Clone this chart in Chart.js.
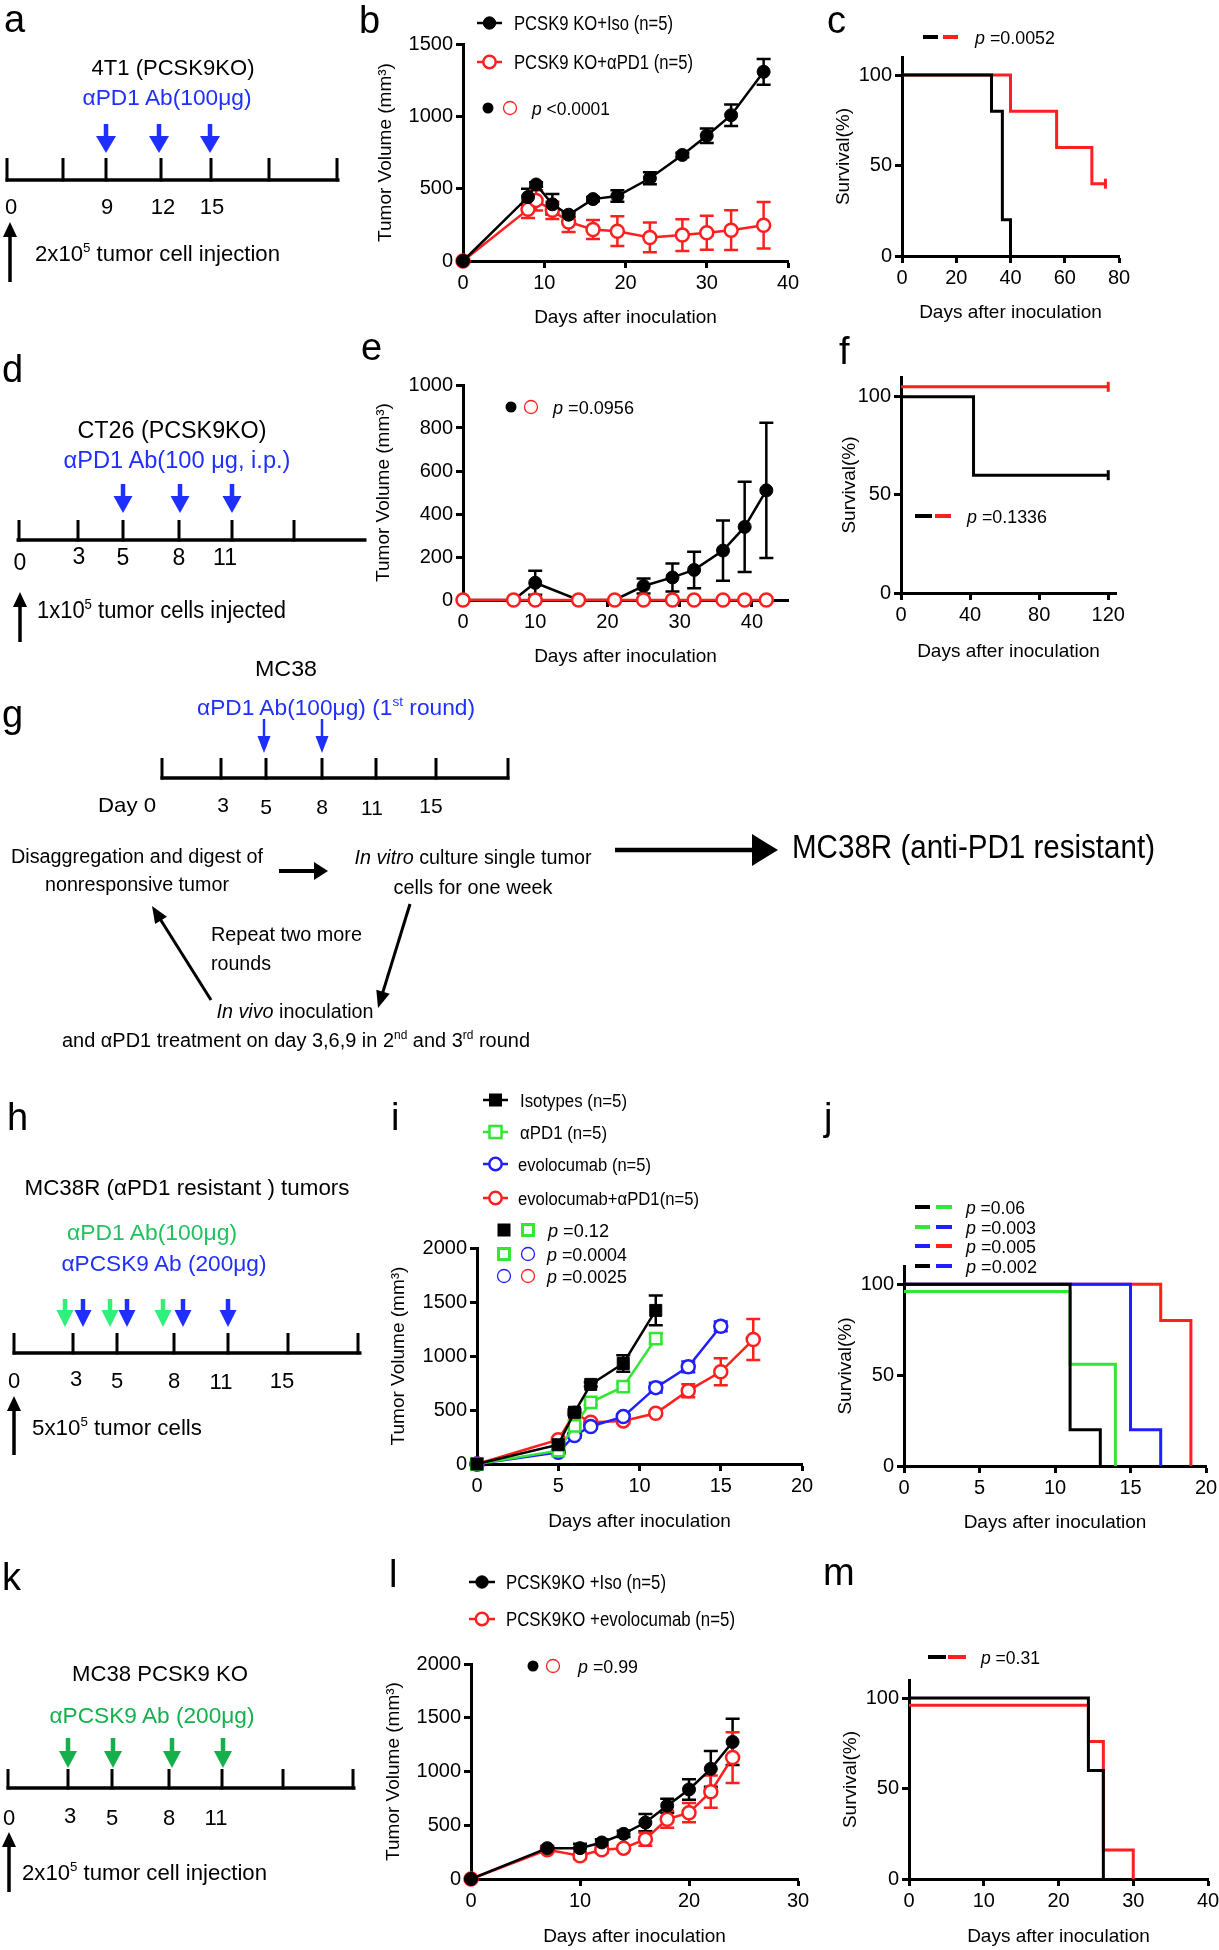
<!DOCTYPE html>
<html>
<head>
<meta charset="utf-8">
<script src="https://cdn.jsdelivr.net/npm/chart.js"></script>
<style>
  html, body { margin: 0; padding: 0; background: #fff; overflow: hidden; }
  #page { position: relative; width: 1219px; height: 1950px; overflow: hidden; }
  #page canvas { position: absolute; }
  #overlay { position: absolute; left: 0; top: 0; }
</style>
</head>
<body>
<div id="page">
  <canvas id="chartB"></canvas>
  <canvas id="chartC"></canvas>
  <canvas id="chartE"></canvas>
  <canvas id="chartF"></canvas>
  <canvas id="chartI"></canvas>
  <canvas id="chartJ"></canvas>
  <canvas id="chartL"></canvas>
  <canvas id="chartM"></canvas>
  <svg id="overlay" width="1219" height="1950" xmlns="http://www.w3.org/2000/svg"></svg>
</div>
<script>
// ===================== DATA =====================
// b - 4T1 PCSK9KO tumour growth
const daysB = [0, 8, 9, 11, 13, 16, 19, 23, 27, 30, 33, 37];
const isoB = [0, 442, 529, 392, 320, 428, 449, 572, 733, 866, 1008, 1308];
const isoErrB = [0, 57, 15, 71, 15, 15, 40, 42, 15, 50, 74, 89];
const pd1B = [0, 357, 419, 350, 270, 218, 206, 163, 179, 195, 213, 247];
const pd1ErrB = [0, 60, 70, 60, 69, 66, 103, 103, 110, 117, 137, 160];
const xTicksB = [0, 10, 20, 30, 40];
const yTicksB = [0, 500, 1000, 1500];

// c - 4T1 survival
const survDaysC_iso = [0, 33, 37, 40];
const survC_iso = [100, 80, 20, 0];
const survDaysC_pd1 = [0, 40, 57, 70, 75];
const survC_pd1 = [100, 80, 60, 40, 40];
const xTicksC = [0, 20, 40, 60, 80];
const yTicksSurv = [0, 50, 100];

// e - CT26 PCSK9KO tumour growth
const daysE = [0, 7, 10, 16, 21, 25, 29, 32, 36, 39, 42];
const isoE = [0, 0, 80, 0, 0, 65, 105, 140, 230, 340, 510];
const isoErrE = [0, 0, 56, 0, 0, 35, 65, 85, 140, 210, 315];
const pd1E = [0, 0, 0, 0, 0, 0, 0, 0, 0, 0, 0];
const xTicksE = [0, 10, 20, 30, 40];
const yTicksE = [0, 200, 400, 600, 800, 1000];

// f - CT26 survival
const survDaysF_iso = [0, 42, 120];
const survF_iso = [100, 60, 60];
const survDaysF_pd1 = [0, 120];
const survF_pd1 = [105, 105];
const xTicksF = [0, 40, 80, 120];

// i - MC38R tumour growth
const daysI_iso = [0, 5, 6, 7, 9, 11];
const isoI = [0, 178, 479, 737, 931, 1422];
const isoErrI = [0, 20, 25, 20, 77, 138];
const pd1I = [0, 123, 353, 571, 716, 1161];
const pd1ErrI = [0, 15, 20, 25, 30, 45];
const daysI_evo = [0, 5, 6, 7, 9, 11, 13, 15];
const evoI = [0, 108, 264, 347, 439, 707, 900, 1275];
const evoErrI = [0, 10, 20, 20, 25, 45, 50, 45];
const daysI_combo = [0, 5, 6, 7, 9, 11, 13, 15, 17];
const comboI = [0, 224, 470, 387, 399, 470, 679, 854, 1152];
const comboErrI = [0, 15, 15, 20, 20, 20, 60, 125, 190];
const xTicksI = [0, 5, 10, 15, 20];
const yTicksI = [0, 500, 1000, 1500, 2000];

// j - MC38R survival
const survDaysJ_iso = [0, 11, 13];
const survJ_iso = [100, 20, 0];
const survDaysJ_pd1 = [0, 11, 14];
const survJ_pd1 = [96, 56, 0];
const survDaysJ_evo = [0, 15, 17];
const survJ_evo = [100, 20, 0];
const survDaysJ_combo = [0, 17, 19];
const survJ_combo = [100, 80, 0];
const xTicksJ = [0, 5, 10, 15, 20];

// l - MC38 PCSK9KO tumour growth
const daysL = [0, 7, 10, 12, 14, 16, 18, 20, 22, 24];
const isoL = [0, 287, 287, 340, 420, 525, 682, 833, 1025, 1275];
const isoErrL = [0, 20, 40, 30, 30, 80, 65, 95, 166, 215];
const evoL = [0, 272, 216, 272, 287, 370, 556, 617, 812, 1130];
const evoErrL = [0, 20, 30, 30, 20, 60, 80, 90, 150, 236];
const xTicksL = [0, 10, 20, 30];
const yTicksL = [0, 500, 1000, 1500, 2000];

// m - MC38 PCSK9KO survival
const survDaysM_iso = [0, 24, 26];
const survM_iso = [100, 60, 0];
const survDaysM_evo = [0, 24, 26, 30];
const survM_evo = [96, 76, 16, 0];
const xTicksM = [0, 10, 20, 30, 40];

// ===================== STYLE / LAYOUT =====================
const FONT = "'Liberation Sans', Arial, Helvetica, sans-serif";
const BLACK = '#000000';
const RED = '#ff1f1f';
const BLUE = '#1f1fff';
const GREEN = '#33e633';
const S_BLUE = '#1f2fff';
const S_GREEN_LIGHT = '#2ef07a';
const S_GREEN_TEXT = '#22c15e';
const S_GREEN = '#14b04c';

const TICK_SIZE = 20, TITLE_SIZE = 19, PAD_TOP = 14, PAD_RIGHT = 22;

// plot frames: pixel of x=0 / x=max, y=max / y=0, centre of the axis titles
const geoB = { x0: 463, x1: 788, yT: 43, yB: 261, ycx: 385, xcy: 318 };
const geoC = { x0: 902, x1: 1119, yT: 56, yB: 256, ycx: 843, xcy: 313 };
const geoE = { x0: 463, x1: 788, yT: 384, yB: 600, ycx: 383, xcy: 657 };
const geoF = { x0: 901, x1: 1116, yT: 376, yB: 593, ycx: 849, xcy: 652 };
const geoI = { x0: 477, x1: 802, yT: 1247, yB: 1464, ycx: 398, xcy: 1522 };
const geoJ = { x0: 904, x1: 1206, yT: 1265, yB: 1466, ycx: 845, xcy: 1523 };
const geoL = { x0: 471, x1: 798, yT: 1663, yB: 1879, ycx: 393, xcy: 1937 };
const geoM = { x0: 909, x1: 1208, yT: 1679, yB: 1879, ycx: 850, xcy: 1937 };

Chart.defaults.font.family = FONT;
Chart.defaults.color = '#000';

// error bars drawn under the lines, through the chart scales
const errorBars = {
  id: 'errorBars',
  beforeDatasetsDraw(chart) {
    const ctx = chart.ctx, xs = chart.scales.x, ys = chart.scales.y;
    chart.data.datasets.forEach((ds) => {
      if (!ds.errors) return;
      ctx.save();
      ctx.strokeStyle = ds.borderColor;
      ctx.lineWidth = 2.5;
      ds.data.forEach((pt, j) => {
        const e = ds.errors[j];
        if (!e) return;
        const px = xs.getPixelForValue(pt.x);
        const top = ys.getPixelForValue(pt.y + e);
        const bot = ys.getPixelForValue(Math.max(pt.y - e, 0));
        ctx.beginPath();
        ctx.moveTo(px, top); ctx.lineTo(px, bot);
        ctx.moveTo(px - 7, top); ctx.lineTo(px + 7, top);
        ctx.moveTo(px - 7, bot); ctx.lineTo(px + 7, bot);
        ctx.stroke();
      });
      ctx.restore();
    });
  },
};

function frameOf(g) {
  const off = TITLE_SIZE * 1.2 / 2 + 4;
  const left = Math.round(g.ycx - off);
  const top = g.yT - PAD_TOP;
  const xH = Math.round(g.xcy - g.yB + off);
  return { left, top, yW: g.x0 - left, xH, width: g.x1 - left + PAD_RIGHT, height: g.yB - top + xH };
}

function axis(max, ticks, fitFn, title) {
  return {
    type: 'linear', min: 0, max,
    afterBuildTicks: (a) => { a.ticks = ticks.map((v) => ({ value: v })); },
    afterFit: fitFn,
    grid: { display: true, drawOnChartArea: false, drawTicks: true, tickLength: 7, tickWidth: 3, tickColor: '#000' },
    border: { display: true, color: '#000', width: 3 },
    ticks: {
      color: '#000', font: { size: TICK_SIZE }, padding: 3, autoSkip: false, maxRotation: 0,
      callback: (v) => String(v),
    },
    title: { display: true, text: title, color: '#000', font: { size: TITLE_SIZE }, padding: { top: 4, bottom: 4 } },
  };
}

function makeChart(id, geo, datasets, xMax, xTicks, yMax, yTicks, yTitle) {
  const f = frameOf(geo);
  const cv = document.getElementById(id);
  cv.width = f.width; cv.height = f.height;
  cv.style.left = f.left + 'px'; cv.style.top = f.top + 'px';
  return new Chart(cv, {
    type: 'line',
    data: { datasets },
    options: {
      responsive: false, animation: false, events: [],
      layout: { padding: { top: PAD_TOP, right: PAD_RIGHT, left: 0, bottom: 0 } },
      plugins: { legend: { display: false }, tooltip: { enabled: false } },
      scales: {
        x: axis(xMax, xTicks, (s) => { s.height = f.xH; }, 'Days after inoculation'),
        y: axis(yMax, yTicks, (s) => { s.width = f.yW; }, yTitle),
      },
    },
    plugins: [errorBars],
  });
}

function growth(days, vals, errs, color, style, filled, radius) {
  return {
    data: days.map((d, i) => ({ x: d, y: vals[i] })),
    errors: errs,
    borderColor: color, backgroundColor: color, borderWidth: 2.5,
    pointStyle: style, pointRadius: radius, pointHoverRadius: radius,
    pointBorderWidth: filled ? 1 : 2.5,
    pointBackgroundColor: filled ? color : '#ffffff', pointBorderColor: color,
    clip: false, tension: 0, fill: false,
  };
}

function km(days, surv, color) {
  const last = days.length - 1;
  return {
    data: days.map((d, i) => ({ x: d, y: surv[i] })),
    stepped: true, borderColor: color, borderWidth: 3, fill: false, clip: false,
    pointStyle: 'line', rotation: 90,
    pointRadius: days.map((d, i) => (i === last && surv[i] > 0 ? 5 : 0)),
    pointHoverRadius: 0, pointBorderColor: color, pointBorderWidth: 3,
  };
}

const VOL = 'Tumor Volume (mm³)';
const SURV = 'Survival(%)';

makeChart('chartB', geoB, [
  growth(daysB, isoB, isoErrB, BLACK, 'circle', true, 6.5),
  growth(daysB, pd1B, pd1ErrB, RED, 'circle', false, 6.5),
], 40, xTicksB, 1500, yTicksB, VOL);

makeChart('chartC', geoC, [
  km(survDaysC_iso, survC_iso, BLACK),
  km(survDaysC_pd1, survC_pd1, RED),
], 80, xTicksC, 110, yTicksSurv, SURV);

makeChart('chartE', geoE, [
  growth(daysE, pd1E, null, RED, 'circle', false, 6.5),
  growth(daysE, isoE, isoErrE, BLACK, 'circle', true, 6.5),
], 45, xTicksE, 1000, yTicksE, VOL);

makeChart('chartF', geoF, [
  km(survDaysF_iso, survF_iso, BLACK),
  km(survDaysF_pd1, survF_pd1, RED),
], 124.5, xTicksF, 110, yTicksSurv, SURV);

makeChart('chartI', geoI, [
  growth(daysI_iso, isoI, isoErrI, BLACK, 'rect', true, 8.5),
  growth(daysI_iso, pd1I, pd1ErrI, GREEN, 'rect', false, 8),
  growth(daysI_evo, evoI, evoErrI, BLUE, 'circle', false, 6.5),
  growth(daysI_combo, comboI, comboErrI, RED, 'circle', false, 6.5),
], 20, xTicksI, 2000, yTicksI, VOL);

makeChart('chartJ', geoJ, [
  km(survDaysJ_iso, survJ_iso, BLACK),
  km(survDaysJ_pd1, survJ_pd1, GREEN),
  km(survDaysJ_evo, survJ_evo, BLUE),
  km(survDaysJ_combo, survJ_combo, RED),
], 20, xTicksJ, 110, yTicksSurv, SURV);

makeChart('chartL', geoL, [
  growth(daysL, isoL, isoErrL, BLACK, 'circle', true, 6.5),
  growth(daysL, evoL, evoErrL, RED, 'circle', false, 6.5),
], 30, xTicksL, 2000, yTicksL, VOL);

makeChart('chartM', geoM, [
  km(survDaysM_iso, survM_iso, BLACK),
  km(survDaysM_evo, survM_evo, RED),
], 40, xTicksM, 110, yTicksSurv, SURV);

// ===================== SCHEMATICS, LEGENDS, PANEL LETTERS (SVG) =====================
const svg = document.getElementById('overlay');
const NS = 'http://www.w3.org/2000/svg';

function el(tag, attrs, parent) {
  const e = document.createElementNS(NS, tag);
  for (const k in attrs) e.setAttribute(k, attrs[k]);
  (parent || svg).appendChild(e);
  return e;
}

// y is the visual centre of the text line
function txt(x, y, content, o) {
  o = o || {};
  const size = o.size || 22;
  const t = el('text', {
    x, y: (y + size * 0.36).toFixed(1), 'font-size': size, 'font-family': FONT,
    fill: o.color || '#000', 'text-anchor': o.anchor || 'start',
  });
  if (o.w) { t.setAttribute('textLength', o.w); t.setAttribute('lengthAdjust', 'spacingAndGlyphs'); }
  let up = false;
  (Array.isArray(content) ? content : [content]).forEach((seg) => {
    const s = typeof seg === 'string' ? { t: seg } : seg;
    const a = {};
    if (s.italic) a['font-style'] = 'italic';
    if (s.sup) { a['font-size'] = (size * 0.6).toFixed(1); if (!up) { a.dy = -(size * 0.4).toFixed(1); up = true; } }
    else if (up) { a.dy = (size * 0.4).toFixed(1); up = false; }
    const sp = el('tspan', a, t);
    sp.textContent = s.t;
  });
  return t;
}

function arrow(x1, y1, x2, y2, color, w, headLen, headW) {
  const dx = x2 - x1, dy = y2 - y1, L = Math.hypot(dx, dy), ux = dx / L, uy = dy / L;
  const bx = x2 - ux * headLen, by = y2 - uy * headLen;
  el('line', { x1, y1, x2: bx + ux * 2, y2: by + uy * 2, stroke: color, 'stroke-width': w });
  el('polygon', {
    points: `${bx - uy * headW / 2},${by + ux * headW / 2} ${bx + uy * headW / 2},${by - ux * headW / 2} ${x2},${y2}`,
    fill: color,
  });
}

function timeline(y, x0, x1, ticks, tickTop) {
  el('line', { x1: x0 - 1.5, y1: y, x2: x1 + 1.5, y2: y, stroke: '#000', 'stroke-width': 3.5 });
  ticks.forEach((t) => el('line', { x1: t, y1: tickTop, x2: t, y2: y + 1.5, stroke: '#000', 'stroke-width': 3 }));
}

function nums(list, size) {
  list.forEach(([s, x, y]) => txt(x, y, s, { anchor: 'middle', size }));
}

const P = { t: 'p', italic: true };

// ---- a
txt(173, 67, '4T1 (PCSK9KO)', { anchor: 'middle', size: 22, w: 163 });
txt(167, 97, 'αPD1 Ab(100μg)', { anchor: 'middle', size: 22, w: 169, color: S_BLUE });
[106, 159, 210].forEach((x) => arrow(x, 124, x, 153, S_BLUE, 4.5, 17, 20));
timeline(180, 7, 338, [7, 63, 106, 161, 211, 269, 337], 158);
nums([['0', 11, 206], ['9', 107, 206], ['12', 163, 206], ['15', 212, 206]], 22);
arrow(10, 282, 10, 222, '#000', 3.5, 15, 14);
txt(35, 253, ['2x10', { t: '5', sup: true }, ' tumor cell injection'], { size: 22, w: 245 });

// ---- d
txt(172, 430, 'CT26 (PCSK9KO)', { anchor: 'middle', size: 23, w: 189 });
txt(177, 460, 'αPD1 Ab(100 μg, i.p.)', { anchor: 'middle', size: 23, w: 227, color: S_BLUE });
[123, 180, 232].forEach((x) => arrow(x, 484, x, 513, S_BLUE, 4.5, 17, 19));
timeline(540, 18, 365, [19, 78, 123, 179, 232, 294], 520);
nums([['0', 20, 562], ['3', 79, 556], ['5', 123, 557], ['8', 179, 557], ['11', 225, 557]], 23);
arrow(20, 642, 20, 592, '#000', 3.5, 15, 14);
txt(37, 610, ['1x10', { t: '5', sup: true }, ' tumor cells injected'], { size: 23, w: 249 });

// ---- g
txt(286, 668, 'MC38', { anchor: 'middle', size: 22, w: 62 });
txt(336, 707, ['αPD1 Ab(100μg) (1', { t: 'st', sup: true }, ' round)'], { anchor: 'middle', size: 22, w: 278, color: S_BLUE });
[264, 322].forEach((x) => arrow(x, 719, x, 753, S_BLUE, 2.5, 17, 13));
timeline(778, 162, 508, [162, 221, 266, 322, 376, 436, 508], 758);
txt(127, 804, 'Day 0', { anchor: 'middle', size: 21, w: 58 });
nums([['3', 223, 804], ['5', 266, 806], ['8', 322, 806], ['11', 372, 807], ['15', 431, 805]], 21);
txt(137, 856, 'Disaggregation and digest of', { anchor: 'middle', size: 20, w: 252 });
txt(137, 884, 'nonresponsive tumor', { anchor: 'middle', size: 20, w: 184 });
arrow(279, 871, 328, 871, '#000', 4, 14, 18);
txt(473, 857, [{ t: 'In vitro', italic: true }, ' culture single tumor'], { anchor: 'middle', size: 20, w: 237 });
txt(473, 887, 'cells for one week', { anchor: 'middle', size: 20, w: 159 });
arrow(615, 850, 778, 850, '#000', 4.5, 26, 32);
txt(792, 846, 'MC38R (anti-PD1 resistant)', { size: 34, w: 363 });
txt(211, 934, 'Repeat two more', { size: 20, w: 151 });
txt(211, 963, 'rounds', { size: 20, w: 60 });
arrow(211, 1000, 152, 906, '#000', 3, 17, 14);
arrow(410, 904, 378, 1008, '#000', 3, 17, 14);
txt(295, 1011, [{ t: 'In vivo', italic: true }, ' inoculation'], { anchor: 'middle', size: 20, w: 157 });
txt(296, 1040, ['and αPD1 treatment on day 3,6,9 in 2', { t: 'nd', sup: true }, ' and 3', { t: 'rd', sup: true }, ' round'],
  { anchor: 'middle', size: 20, w: 468 });

// ---- h
txt(187, 1187, 'MC38R (αPD1 resistant ) tumors', { anchor: 'middle', size: 22, w: 325 });
txt(152, 1232, 'αPD1 Ab(100μg)', { anchor: 'middle', size: 22, w: 170, color: S_GREEN_TEXT });
txt(164, 1263, 'αPCSK9 Ab (200μg)', { anchor: 'middle', size: 22, w: 205, color: S_BLUE });
[65, 110, 163].forEach((x) => arrow(x, 1299, x, 1327, S_GREEN_LIGHT, 4.5, 17, 17));
[83, 127, 183, 228].forEach((x) => arrow(x, 1299, x, 1327, S_BLUE, 4.5, 17, 17));
timeline(1353, 14, 360, [14, 73, 117, 174, 228, 288, 358], 1333);
nums([['0', 14, 1380], ['3', 76, 1378], ['5', 117, 1380], ['8', 174, 1380], ['11', 221, 1381], ['15', 282, 1380]], 22);
arrow(14, 1455, 14, 1396, '#000', 3.5, 15, 14);
txt(32, 1427, ['5x10', { t: '5', sup: true }, ' tumor cells'], { size: 22, w: 170 });

// ---- k
txt(160, 1673, 'MC38 PCSK9 KO', { anchor: 'middle', size: 22, w: 176 });
txt(152, 1715, 'αPCSK9 Ab (200μg)', { anchor: 'middle', size: 22, w: 205, color: S_GREEN });
[68, 113, 172, 223].forEach((x) => arrow(x, 1738, x, 1768, S_GREEN, 4.5, 17, 18));
timeline(1788, 8, 354, [8, 68, 112, 169, 222, 283, 353], 1769);
nums([['0', 9, 1817], ['3', 70, 1815], ['5', 112, 1817], ['8', 169, 1817], ['11', 216, 1817]], 22);
arrow(9, 1892, 9, 1832, '#000', 3.5, 15, 14);
txt(22, 1872, ['2x10', { t: '5', sup: true }, ' tumor cell injection'], { size: 22, w: 245 });

// ---- legend glyphs
function lineMark(x1, x2, y, color, mark, filled) {
  el('line', { x1, y1: y, x2, y2: y, stroke: color, 'stroke-width': 2.5 });
  const cx = (x1 + x2) / 2;
  if (mark === 'circle') el('circle', { cx, cy: y, r: 6.2, fill: filled ? color : '#fff', stroke: color, 'stroke-width': filled ? 1 : 2.5 });
  else el('rect', { x: cx - 6, y: y - 6, width: 12, height: 12, fill: filled ? color : '#fff', stroke: color, 'stroke-width': filled ? 1 : 2.5 });
}
function dot(cx, cy, color) { el('circle', { cx, cy, r: 5.5, fill: color }); }
function ring(cx, cy, color) { el('circle', { cx, cy, r: 6.5, fill: 'none', stroke: color, 'stroke-width': 1.3 }); }
function sq(cx, cy, color, filled) {
  el('rect', filled
    ? { x: cx - 6.5, y: cy - 6.5, width: 13, height: 13, fill: color }
    : { x: cx - 5.5, y: cy - 5.5, width: 11, height: 11, fill: 'none', stroke: color, 'stroke-width': 3 });
}
function dash(x1, x2, y, color) { el('line', { x1, y1: y, x2, y2: y, stroke: color, 'stroke-width': 4 }); }

// b legend
lineMark(477, 502, 23, BLACK, 'circle', true);
txt(514, 23, 'PCSK9 KO+Iso (n=5)', { size: 20, w: 159 });
lineMark(477, 502, 62, RED, 'circle', false);
txt(514, 62, 'PCSK9 KO+αPD1 (n=5)', { size: 20, w: 179 });
dot(488, 108, BLACK); ring(510, 108, RED);
txt(532, 108, [P, ' <0.0001'], { size: 19, w: 78 });

// c legend
dash(923, 938, 37, BLACK); dash(943, 958, 37, RED);
txt(975, 37, [P, ' =0.0052'], { size: 19, w: 80 });

// e legend
dot(511, 407, BLACK); ring(531, 407, RED);
txt(553, 407, [P, ' =0.0956'], { size: 19, w: 81 });

// f legend
dash(915, 932, 516, BLACK); dash(935, 951, 516, RED);
txt(967, 516, [P, ' =0.1336'], { size: 19, w: 80 });

// i legend
lineMark(483, 508, 1100, BLACK, 'rect', true);
txt(520, 1100, 'Isotypes (n=5)', { size: 18, w: 107 });
lineMark(483, 508, 1132, GREEN, 'rect', false);
txt(520, 1132, 'αPD1 (n=5)', { size: 18, w: 87 });
lineMark(483, 508, 1164, BLUE, 'circle', false);
txt(518, 1164, 'evolocumab (n=5)', { size: 18, w: 133 });
lineMark(483, 508, 1198, RED, 'circle', false);
txt(518, 1198, 'evolocumab+αPD1(n=5)', { size: 18, w: 181 });
sq(504, 1230, BLACK, true); sq(528, 1230, GREEN, false);
txt(548, 1230, [P, ' =0.12'], { size: 19, w: 61 });
sq(504, 1254, GREEN, false); ring(528, 1254, BLUE);
txt(547, 1254, [P, ' =0.0004'], { size: 19, w: 80 });
ring(504, 1276, BLUE); ring(528, 1276, RED);
txt(547, 1276, [P, ' =0.0025'], { size: 19, w: 80 });

// j legend
[[1207, BLACK, GREEN, ' =0.06', 59], [1227, GREEN, BLUE, ' =0.003', 70],
 [1246, BLUE, RED, ' =0.005', 70], [1266, BLACK, BLUE, ' =0.002', 71]].forEach(([y, c1, c2, s, w]) => {
  dash(915, 930, y, c1); dash(936, 952, y, c2);
  txt(966, y, [P, s], { size: 19, w });
});

// l legend
lineMark(469, 495, 1582, BLACK, 'circle', true);
txt(506, 1582, 'PCSK9KO +Iso (n=5)', { size: 20, w: 160 });
lineMark(469, 495, 1619, RED, 'circle', false);
txt(506, 1619, 'PCSK9KO +evolocumab (n=5)', { size: 20, w: 229 });
dot(533, 1666, BLACK); ring(553, 1666, RED);
txt(578, 1666, [P, ' =0.99'], { size: 19, w: 60 });

// m legend
dash(928, 946, 1657, BLACK); dash(948, 966, 1657, RED);
txt(981, 1657, [P, ' =0.31'], { size: 19, w: 59 });

// ---- panel letters (x, baseline)
[['a', 4, 32], ['b', 359, 33], ['c', 827, 33], ['d', 2, 382], ['e', 361, 360], ['f', 839, 364],
 ['g', 2, 727], ['h', 7, 1130], ['i', 391, 1130], ['j', 824, 1130], ['k', 2, 1590], ['l', 389, 1587],
 ['m', 823, 1585]].forEach(([s, x, y]) => {
  const t = el('text', { x, y, 'font-size': 38, 'font-family': FONT, fill: '#000' });
  t.textContent = s;
});
</script>
</body>
</html>
